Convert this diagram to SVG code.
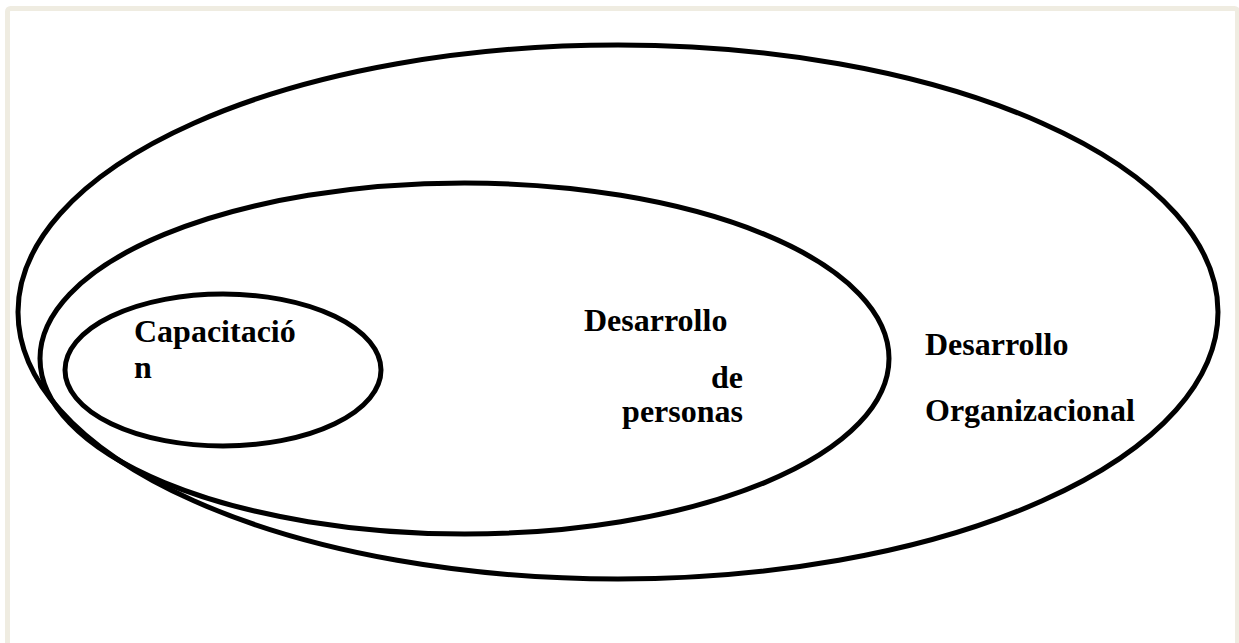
<svg xmlns="http://www.w3.org/2000/svg" width="1239" height="643" viewBox="0 0 1239 643">
  <style>
    .ring { fill: none; stroke: #000; stroke-width: 5; }
    .label { font-family: "Liberation Serif", "Times New Roman", serif; font-size: 32px; font-weight: bold; fill: #000; }
  </style>
  <rect x="0" y="0" width="1239" height="643" fill="#ffffff"/>
  <!-- page frame -->
  <rect x="7.5" y="8.5" width="1230" height="700" rx="3" fill="#ffffff" stroke="#efece1" stroke-width="5"/>

  <g id="desarrollo-organizacional">
    <ellipse class="ring" cx="618" cy="312" rx="600" ry="267"/>
    <text class="label" x="925" y="355">Desarrollo</text>
    <text class="label" x="925" y="421">Organizacional</text>
  </g>

  <g id="desarrollo-personas">
    <ellipse class="ring" cx="464.5" cy="358.5" rx="424.5" ry="175.5"/>
    <text class="label" x="584" y="331">Desarrollo</text>
    <text class="label" x="743" y="388" text-anchor="end">de</text>
    <text class="label" x="743" y="422" text-anchor="end">personas</text>
  </g>

  <g id="capacitacion">
    <ellipse class="ring" cx="223" cy="370" rx="158" ry="76"/>
    <text class="label" x="134" y="342">Capacitació</text>
    <text class="label" x="134" y="378">n</text>
  </g>

  <g id="connectors"/>
</svg>
